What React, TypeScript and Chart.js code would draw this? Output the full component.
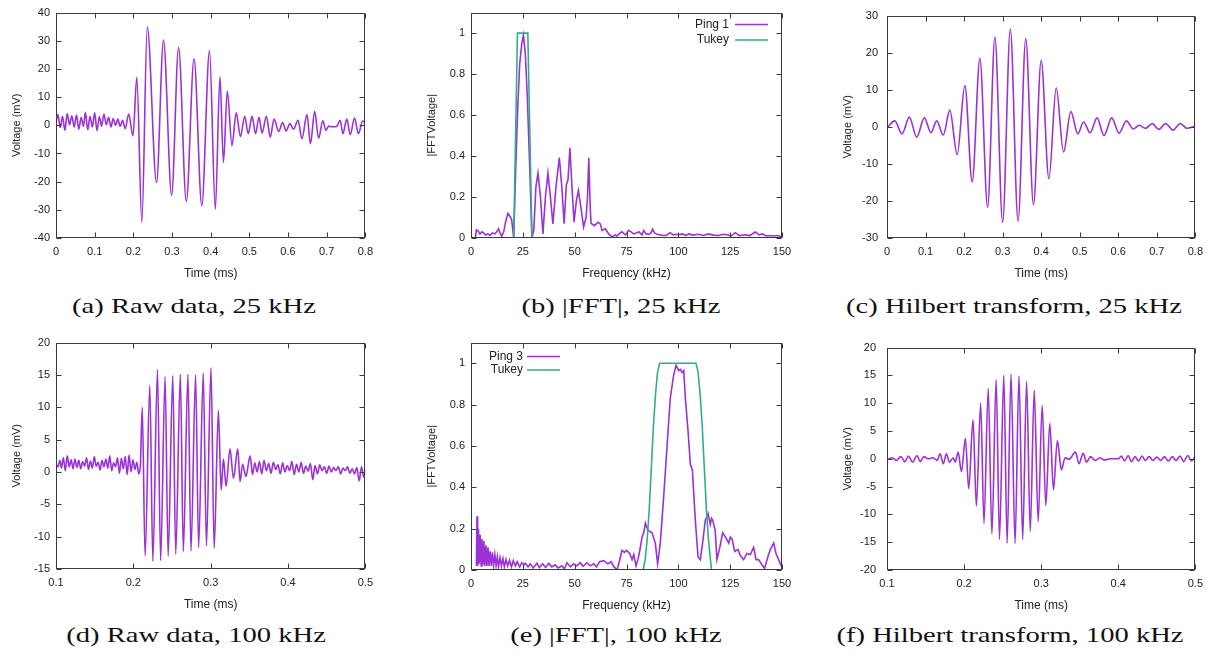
import React, { useEffect, useRef } from 'react';
import { Chart, registerables } from 'chart.js';

Chart.register(...registerables);

type P = [number, number];

const PURPLE = '#9a32d6';
const TEAL = '#2fae8e';
const INK = '#222';
const FRAME = '#3a3a3a';
const SANS = '"Liberation Sans", Arial, Helvetica, sans-serif';

// ---------- tick values & labels ----------
const timeTicks25 = [0, 0.1, 0.2, 0.3, 0.4, 0.5, 0.6, 0.7, 0.8];
const timeLabels25 = ['0', '0.1', '0.2', '0.3', '0.4', '0.5', '0.6', '0.7', '0.8'];
const timeTicks100 = [0.1, 0.2, 0.3, 0.4, 0.5];
const timeLabels100 = ['0.1', '0.2', '0.3', '0.4', '0.5'];
const freqTicks = [0, 25, 50, 75, 100, 125, 150];
const freqLabels = ['0', '25', '50', '75', '100', '125', '150'];
const fftTicks = [0, 0.2, 0.4, 0.6, 0.8, 1];
const fftLabels = ['0', '0.2', '0.4', '0.6', '0.8', '1'];
const rawTicks25 = [-40, -30, -20, -10, 0, 10, 20, 30, 40];
const rawLabels25 = ['-40', '-30', '-20', '-10', '0', '10', '20', '30', '40'];
const hilbTicks25 = [-30, -20, -10, 0, 10, 20, 30];
const hilbLabels25 = ['-30', '-20', '-10', '0', '10', '20', '30'];
const rawTicks100 = [-15, -10, -5, 0, 5, 10, 15, 20];
const rawLabels100 = ['-15', '-10', '-5', '0', '5', '10', '15', '20'];
const hilbTicks100 = [-20, -15, -10, -5, 0, 5, 10, 15, 20];
const hilbLabels100 = ['-20', '-15', '-10', '-5', '0', '5', '10', '15', '20'];

// ---------- series: (a) raw data, 25 kHz  [ms, mV] ----------
const rawData25: P[] = [
  [0.000, 1.0], [0.005, 3.8], [0.011, -0.8], [0.017, 3.2], [0.023, -1.8], [0.029, 4.2], [0.035, 0.2],
  [0.041, 3.4], [0.047, -0.6], [0.053, 3.6], [0.059, -1.4], [0.065, 2.8], [0.071, -0.4], [0.076, 4.6],
  [0.082, -1.6], [0.088, 3.2], [0.094, -0.6], [0.100, 4.4], [0.106, -1.9], [0.112, 3.0], [0.118, -0.3],
  [0.124, 4.0], [0.130, 0.2], [0.136, 2.8], [0.142, -0.6], [0.148, 2.4], [0.154, 0.0], [0.160, 2.2],
  [0.166, -0.4], [0.172, 1.8], [0.179, -1.2], [0.188, 4.0], [0.199, -3.8], [0.209, 17.0], [0.222, -34.5],
  [0.236, 35.0], [0.260, -20.3], [0.278, 30.3], [0.299, -24.8], [0.317, 27.6], [0.337, -27.0],
  [0.357, 23.6], [0.377, -28.5], [0.397, 26.5], [0.412, -29.8], [0.424, 17.2], [0.433, -13.2],
  [0.443, 12.2], [0.455, -7.2], [0.466, 4.4], [0.477, -4.0], [0.488, 3.2], [0.497, -3.0], [0.507, 3.2],
  [0.516, -3.0], [0.525, 2.8], [0.533, -2.8], [0.544, 3.2], [0.554, -4.2], [0.564, 2.2], [0.576, -2.2],
  [0.586, 1.0], [0.595, -2.0], [0.605, 0.6], [0.614, -1.4], [0.626, 1.8], [0.636, -4.8], [0.649, 3.8],
  [0.658, -6.5], [0.669, 5.0], [0.679, -4.6], [0.690, 1.6], [0.698, -1.8], [0.705, -0.3], [0.715, -0.5],
  [0.726, -0.3], [0.735, 1.8], [0.742, -3.0], [0.752, 2.2], [0.761, -3.3], [0.772, 2.6], [0.782, -3.0],
  [0.793, 1.5], [0.800, 0.8],
];

// ---------- (b) |FFT|, 25 kHz  [kHz, |FFT|] ----------
const ping1Spectrum: P[] = [
  [2.1, 0.0], [2.6, 0.04], [3.4, 0.035], [4.3, 0.02], [5.3, 0.03], [6.1, 0.025], [7.0, 0.015], [8.1, 0.02],
  [9.2, 0.012], [10.3, 0.025], [11.5, 0.02], [12.4, 0.03], [13.3, 0.045], [14.2, 0.02], [14.8, 0.008],
  [15.8, 0.03], [16.7, 0.08], [17.8, 0.12], [18.8, 0.105], [19.6, 0.09], [20.6, 0.0], [21.6, 0.35],
  [22.6, 0.65], [23.5, 0.85], [24.5, 0.95], [25.3, 0.99], [26.2, 0.9], [27.2, 0.68], [28.3, 0.35],
  [29.4, 0.0], [30.3, 0.04], [31.3, 0.25], [32.3, 0.317], [33.5, 0.2], [34.7, 0.02], [35.9, 0.2],
  [37.1, 0.317], [38.3, 0.2], [39.5, 0.069], [41.0, 0.25], [42.6, 0.392], [43.8, 0.25], [44.9, 0.07],
  [46.0, 0.26], [46.8, 0.285], [47.7, 0.44], [48.7, 0.25], [49.7, 0.077], [50.8, 0.18], [51.8, 0.232],
  [53.0, 0.15], [54.3, 0.053], [55.5, 0.1], [56.2, 0.2], [56.8, 0.392], [57.5, 0.15], [57.9, 0.072],
  [59.5, 0.06], [61.3, 0.077], [62.3, 0.07], [63.2, 0.037], [64.8, 0.045], [66.4, 0.02], [68.0, 0.005],
  [69.5, 0.015], [70.4, 0.01], [72.0, 0.025], [72.8, 0.03], [74.5, 0.015], [76.0, 0.037], [77.2, 0.03],
  [78.5, 0.02], [80.0, 0.025], [80.9, 0.03], [82.5, 0.015], [83.3, 0.037], [84.5, 0.02], [85.7, 0.018],
  [86.8, 0.025], [87.6, 0.043], [88.5, 0.025], [89.7, 0.018], [91.5, 0.015], [92.9, 0.012], [94.5, 0.015],
  [96.1, 0.026], [97.5, 0.015], [99.0, 0.018], [100.2, 0.016], [102.0, 0.02], [103.5, 0.012], [105.0, 0.02],
  [107.0, 0.014], [109.8, 0.018], [112.0, 0.012], [114.6, 0.02], [117.0, 0.014], [119.5, 0.012],
  [121.5, 0.018], [123.5, 0.016], [125.5, 0.01], [127.5, 0.026], [129.5, 0.012], [132.3, 0.016],
  [134.5, 0.012], [137.1, 0.029], [139.0, 0.015], [140.4, 0.02], [142.5, 0.01], [144.4, 0.012],
  [146.5, 0.01], [148.0, 0.012], [150.0, 0.005],
];
const tukey25: P[] = [[20.6, 0], [22.4, 1], [27.4, 1], [29.4, 0]];

// ---------- (c) Hilbert transform, 25 kHz ----------
const hilbert25: P[] = [
  [0.000, -0.3], [0.020, 1.6], [0.039, -1.9], [0.058, 2.6], [0.077, -2.8], [0.097, 2.4], [0.114, -1.6],
  [0.129, 1.6], [0.146, -2.2], [0.163, 4.5], [0.182, -7.5], [0.202, 11.1], [0.221, -14.9], [0.241, 18.5],
  [0.261, -21.7], [0.280, 24.2], [0.300, -25.8], [0.320, 26.4], [0.340, -25.5], [0.360, 23.8],
  [0.380, -21.0], [0.400, 17.9], [0.420, -14.0], [0.439, 10.5], [0.458, -6.8], [0.477, 4.1],
  [0.495, -1.9], [0.510, 1.3], [0.527, -1.6], [0.545, 2.4], [0.563, -2.4], [0.583, 2.4], [0.602, -1.7],
  [0.621, 1.6], [0.639, -0.6], [0.654, 0.4], [0.671, -0.4], [0.688, 0.9], [0.705, -0.7], [0.723, 0.9],
  [0.742, -0.9], [0.761, 0.9], [0.778, -0.4], [0.800, 0.2],
];

// ---------- (d) raw data, 100 kHz ----------
const rawData100: P[] = [
  [0.1000, 1.2], [0.1025, 0.8], [0.1050, 1.8], [0.1070, 0.6], [0.1095, 2.2], [0.1120, 0.2], [0.1145, 2.5],
  [0.1170, 0.8], [0.1195, 1.9], [0.1220, 0.5], [0.1245, 2.0], [0.1270, 0.7], [0.1295, 1.8], [0.1320, 0.5],
  [0.1345, 1.6], [0.1370, 0.9], [0.1395, 2.2], [0.1420, 0.4], [0.1445, 1.7], [0.1470, 0.6], [0.1495, 2.4],
  [0.1520, 0.9], [0.1545, 1.5], [0.1570, 0.3], [0.1595, 1.8], [0.1620, 0.8], [0.1645, 2.0], [0.1670, 0.6],
  [0.1695, 2.5], [0.1720, 0.2], [0.1745, 1.4], [0.1770, 0.8], [0.1795, 2.2], [0.1820, -0.2], [0.1845, 2.1],
  [0.1870, 0.5], [0.1895, 2.4], [0.1920, -0.4], [0.1945, 2.6], [0.1970, 0.0], [0.1995, 1.9], [0.2020, 0.4],
  [0.2045, 1.5], [0.2070, -0.3], [0.2090, 0.8],
  [0.2115, 10.0], [0.2152, -13.0], [0.2213, 13.4], [0.2252, -13.8], [0.2312, 15.8], [0.2353, -13.7],
  [0.2410, 14.7], [0.2450, -13.0], [0.2510, 14.9], [0.2548, -12.7], [0.2608, 15.1], [0.2646, -12.3],
  [0.2706, 15.1], [0.2745, -12.2], [0.2805, 15.0], [0.2844, -11.7], [0.2904, 15.3], [0.2945, -11.4],
  [0.3004, 16.1], [0.3045, -11.8], [0.3100, 9.5], [0.3135, -2.8],
  [0.3165, 2.0], [0.3199, -2.2], [0.3250, 3.6], [0.3294, -1.0], [0.3350, 3.6], [0.3380, -1.5], [0.3413, 1.2],
  [0.3456, -0.7], [0.3510, 2.5], [0.3541, -0.4], [0.3570, 1.4], [0.3600, 0.0], [0.3630, 1.6], [0.3660, -0.3],
  [0.3690, 1.8], [0.3720, 0.2], [0.3750, 1.3], [0.3780, -0.2], [0.3810, 1.5], [0.3840, 0.4], [0.3870, 1.1],
  [0.3900, -0.3], [0.3930, 1.4], [0.3960, 0.0], [0.3990, 1.0], [0.4020, 0.2], [0.4050, 1.6], [0.4080, -0.4],
  [0.4110, 1.2], [0.4140, 0.0], [0.4170, 1.5], [0.4200, -0.2], [0.4230, 0.9], [0.4260, 0.1], [0.4290, 1.3],
  [0.4320, -1.2], [0.4350, 1.0], [0.4380, -0.3], [0.4410, 1.1], [0.4440, 0.2], [0.4470, 0.8], [0.4500, -0.2],
  [0.4530, 0.9], [0.4560, 0.0], [0.4590, 0.7], [0.4620, 0.2], [0.4650, 0.8], [0.4680, -0.3], [0.4710, 0.6],
  [0.4740, 0.2], [0.4770, 0.8], [0.4800, -0.2], [0.4830, 0.5], [0.4860, -0.3], [0.4890, 0.7], [0.4920, -1.4],
  [0.4950, 0.8], [0.4980, -0.8], [0.5000, 0.3],
];

// ---------- (e) |FFT|, 100 kHz ----------
const ping3Spectrum: P[] = [
  [2.6, 0.02], [2.9, 0.26], [3.2, 0.02], [3.6, 0.2], [4.0, 0.03], [4.4, 0.17], [4.9, 0.02], [5.3, 0.15],
  [5.8, 0.03], [6.2, 0.14], [6.7, 0.02], [7.2, 0.12], [7.7, 0.02], [8.2, 0.11], [8.7, 0.02], [9.2, 0.09],
  [9.8, 0.02], [10.3, 0.085], [10.9, 0.02], [11.5, 0.075], [12.1, 0.02], [12.7, 0.065], [13.3, 0.015],
  [14.0, 0.06], [14.7, 0.02], [15.4, 0.055], [16.1, 0.015], [16.9, 0.05], [17.7, 0.02], [18.6, 0.047],
  [19.5, 0.015], [20.4, 0.045], [21.4, 0.02], [22.3, 0.04], [23.5, 0.015], [24.5, 0.035], [25.5, 0.025],
  [26.2, 0.033], [27.5, 0.015], [28.6, 0.03], [30.0, 0.01], [31.8, 0.033], [33.0, 0.012], [34.5, 0.03],
  [36.0, 0.012], [37.5, 0.032], [39.0, 0.015], [40.5, 0.025], [42.0, 0.01], [43.9, 0.02], [45.0, 0.005],
  [46.3, 0.035], [48.0, 0.015], [49.5, 0.03], [51.0, 0.02], [52.7, 0.035], [54.0, 0.018], [55.9, 0.035],
  [57.5, 0.02], [59.2, 0.03], [60.5, 0.015], [62.0, 0.04], [64.0, 0.045], [66.0, 0.03], [67.5, 0.04],
  [69.0, 0.015], [70.4, 0.0], [71.5, 0.04], [72.8, 0.095], [74.0, 0.085], [75.0, 0.095], [76.5, 0.08],
  [77.7, 0.05], [78.5, 0.075], [79.6, 0.02], [80.5, 0.05], [81.7, 0.11], [82.5, 0.16], [83.3, 0.18],
  [84.1, 0.226], [85.0, 0.2], [85.7, 0.19], [87.3, 0.18], [88.9, 0.13], [90.0, 0.03], [91.3, 0.13],
  [92.9, 0.35], [94.5, 0.59], [96.1, 0.83], [97.7, 0.94], [98.9, 0.99], [100.2, 0.965], [101.0, 0.97],
  [101.8, 0.955], [102.6, 0.965], [103.4, 0.83], [104.7, 0.67], [105.8, 0.51], [106.2, 0.5], [106.8, 0.48],
  [108.2, 0.24], [109.5, 0.064], [110.6, 0.05], [111.7, 0.13], [113.0, 0.24], [114.3, 0.274], [115.4, 0.22],
  [116.0, 0.25], [116.6, 0.24], [117.8, 0.19], [118.6, 0.05], [119.8, 0.1], [121.4, 0.18], [122.7, 0.16],
  [124.3, 0.13], [125.1, 0.16], [125.9, 0.15], [127.2, 0.09], [128.8, 0.1], [129.9, 0.07], [131.5, 0.05],
  [133.1, 0.08], [134.7, 0.075], [136.3, 0.11], [137.5, 0.05], [138.7, 0.05], [140.4, 0.024], [141.6, 0.008],
  [143.2, 0.064], [144.4, 0.1], [146.0, 0.13], [147.1, 0.08], [148.4, 0.05], [149.2, 0.03], [150.0, 0.015],
];
const tukey100: P[] = [
  [83.0, 0], [84.0, 0.05], [85.0, 0.15], [86.0, 0.3], [87.0, 0.5], [88.0, 0.7], [89.0, 0.85], [90.0, 0.96],
  [91.0, 1.0], [108.5, 1.0], [109.5, 0.96], [110.5, 0.85], [111.5, 0.7], [112.5, 0.5], [113.5, 0.3],
  [114.5, 0.15], [115.5, 0.05], [116.0, 0],
];

// ---------- (f) Hilbert transform, 100 kHz ----------
const hilbert100: P[] = [
  [0.100, -0.2], [0.107, 0.2], [0.112, -0.3], [0.118, 0.4], [0.123, -0.5], [0.128, 0.5], [0.133, -0.6],
  [0.139, 0.6], [0.143, -0.5], [0.148, 0.4], [0.153, 0.0], [0.160, 0.2], [0.165, -0.3], [0.169, 0.9],
  [0.173, -0.9], [0.177, 0.9], [0.181, -0.6], [0.186, 0.2], [0.1885, -0.6], [0.1923, 1.2], [0.1966, -2.3],
  [0.2017, 3.7], [0.2060, -5.4], [0.2116, 7.0], [0.2159, -8.5], [0.2215, 10.0], [0.2258, -11.6],
  [0.2313, 12.6], [0.2361, -13.5], [0.2416, 14.2], [0.2459, -14.5], [0.2515, 15.0], [0.2558, -15.2],
  [0.2609, 15.2], [0.2661, -15.2], [0.2712, 14.9], [0.2760, -14.5], [0.2811, 13.9], [0.2858, -13.0],
  [0.2910, 12.3], [0.2961, -11.3], [0.3013, 9.6], [0.3060, -8.4], [0.3112, 6.4], [0.3159, -5.6],
  [0.3210, 3.3], [0.3262, -2.0], [0.3310, 0.2], [0.3360, -0.1], [0.3446, 1.2], [0.3490, -0.9],
  [0.3545, 1.0], [0.3588, -0.6], [0.3640, 0.4], [0.3700, -0.3], [0.3760, 0.2], [0.3820, -0.2],
  [0.390, 0.0], [0.400, 0.0], [0.404, 0.5], [0.408, -0.4], [0.413, 0.6], [0.417, -0.5], [0.422, 0.4],
  [0.426, -0.4], [0.431, 0.5], [0.435, -0.3], [0.440, 0.4], [0.445, -0.3], [0.450, 0.3], [0.455, -0.3],
  [0.460, 0.4], [0.465, -0.4], [0.470, 0.4], [0.475, -0.3], [0.480, 0.5], [0.485, -0.5], [0.490, 0.6],
  [0.495, -0.4], [0.500, 0.4],
];

// ---------- captions ----------
const captions = [
  '(a) Raw data, 25 kHz', '(b) |FFT|, 25 kHz', '(c) Hilbert transform, 25 kHz',
  '(d) Raw data, 100 kHz', '(e) |FFT|, 100 kHz', '(f) Hilbert transform, 100 kHz',
];

// ---------- plugin: gnuplot-like frame, inward ticks, key ----------
const gnuPlugin = {
  id: 'gnu',
  afterDatasetsDraw(chart: any, _args: any, opts: any) {
    const { ctx, chartArea: a, scales } = chart;
    const xs = scales.x;
    const ys = scales.y;
    const L = 5;
    ctx.save();
    ctx.strokeStyle = FRAME;
    ctx.lineWidth = 1;
    const l = Math.round(a.left) + 0.5;
    const r = Math.round(a.right) - 0.5;
    const t = Math.round(a.top) + 0.5;
    const b = Math.round(a.bottom) - 0.5;
    ctx.strokeRect(l, t, r - l, b - t);
    ctx.beginPath();
    xs.ticks.forEach((tk: any) => {
      const p = Math.round(xs.getPixelForValue(tk.value)) + 0.5;
      ctx.moveTo(p, b); ctx.lineTo(p, b - L);
      ctx.moveTo(p, t); ctx.lineTo(p, t + L);
    });
    ys.ticks.forEach((tk: any) => {
      const p = Math.round(ys.getPixelForValue(tk.value)) + 0.5;
      ctx.moveTo(l, p); ctx.lineTo(l + L, p);
      ctx.moveTo(r, p); ctx.lineTo(r - L, p);
    });
    ctx.stroke();
    const key = opts && opts.key;
    if (key) {
      ctx.font = `12px ${SANS}`;
      ctx.textAlign = 'right';
      ctx.textBaseline = 'middle';
      chart.data.datasets.forEach((ds: any, i: number) => {
        const y = a.top + key.y0 + i * key.dy;
        ctx.fillStyle = INK;
        ctx.fillText(ds.label, a.left + key.textRight, y);
        ctx.strokeStyle = ds.borderColor;
        ctx.lineWidth = 1.5;
        ctx.beginPath();
        ctx.moveTo(a.left + key.x1, y);
        ctx.lineTo(a.left + key.x2, y);
        ctx.stroke();
      });
    }
    ctx.restore();
  },
};

type Series = { label: string; data: P[]; color: string; smooth: boolean; order: number };
type PanelCfg = {
  left: number; top: number; w: number;
  plot: { l: number; t: number; r: number; b: number };
  yTitleX: number; yGap: number;
  xMin: number; xMax: number; xTicks: number[]; xLabels: string[]; xTitle: string;
  yMin: number; yMax: number; yTicks: number[]; yLabels: string[]; yTitle: string;
  series: Series[];
  key?: { textRight: number; x1: number; x2: number; y0: number; dy: number };
};

const lookup = (ticks: number[], labels: string[]) => (v: any) => {
  const i = ticks.findIndex((t) => Math.abs(t - Number(v)) < 1e-9);
  return i >= 0 ? labels[i] : '';
};

function Panel({ cfg }: { cfg: PanelCfg }) {
  const ref = useRef<HTMLCanvasElement>(null);
  const h = cfg.plot.b + 47 - cfg.top;
  useEffect(() => {
    if (!ref.current) return;
    const chart = new Chart(ref.current, {
      type: 'line',
      data: {
        datasets: cfg.series.map((s) => ({
          label: s.label,
          data: s.data.map(([x, y]) => ({ x, y })),
          borderColor: s.color,
          backgroundColor: s.color,
          borderWidth: 1.6,
          pointRadius: 0,
          fill: false,
          order: s.order,
          tension: 0,
          cubicInterpolationMode: s.smooth ? 'monotone' : 'default',
        })),
      },
      plugins: [gnuPlugin],
      options: {
        animation: false,
        responsive: true,
        maintainAspectRatio: false,
        events: [],
        layout: {
          padding: { top: cfg.plot.t - cfg.top, right: cfg.left + cfg.w - cfg.plot.r, left: 0, bottom: 0 },
        },
        plugins: {
          legend: { display: false },
          tooltip: { enabled: false },
          gnu: { key: cfg.key },
        } as any,
        scales: {
          x: {
            type: 'linear',
            min: cfg.xMin,
            max: cfg.xMax,
            grid: { display: false, drawTicks: false },
            border: { display: false },
            afterBuildTicks: (s: any) => { s.ticks = cfg.xTicks.map((v) => ({ value: v })); },
            afterFit: (s: any) => { s.height = cfg.top + h - cfg.plot.b; },
            ticks: {
              autoSkip: false, maxRotation: 0, padding: 7, color: INK,
              font: { family: SANS, size: 11 },
              callback: lookup(cfg.xTicks, cfg.xLabels),
            },
            title: {
              display: true, text: cfg.xTitle, color: INK,
              font: { family: SANS, size: 12 }, padding: { top: 0, bottom: 4 },
            },
          },
          y: {
            type: 'linear',
            min: cfg.yMin,
            max: cfg.yMax,
            grid: { display: false, drawTicks: false },
            border: { display: false },
            afterBuildTicks: (s: any) => { s.ticks = cfg.yTicks.map((v) => ({ value: v })); },
            afterFit: (s: any) => { s.width = cfg.plot.l - cfg.left; },
            ticks: {
              autoSkip: false, padding: cfg.yGap, color: INK,
              font: { family: SANS, size: 11 },
              callback: lookup(cfg.yTicks, cfg.yLabels),
            },
            title: {
              display: true, text: cfg.yTitle, color: INK,
              font: { family: SANS, size: 11 },
              padding: { top: cfg.yTitleX - cfg.left - 6.6, bottom: 0 },
            },
          },
        },
      } as any,
    });
    return () => chart.destroy();
  }, []);
  return (
    <div style={{ position: 'absolute', left: cfg.left, top: cfg.top, width: cfg.w, height: h }}>
      <canvas ref={ref} />
    </div>
  );
}

const panels: PanelCfg[] = [
  {
    left: 0, top: 0, w: 380, plot: { l: 56, t: 9, r: 367, b: 238 }, yTitleX: 17, yGap: 6,
    xMin: 0, xMax: 0.8, xTicks: timeTicks25, xLabels: timeLabels25, xTitle: 'Time (ms)',
    yMin: -40, yMax: 40, yTicks: rawTicks25, yLabels: rawLabels25, yTitle: 'Voltage (mV)',
    series: [{ label: 'Raw', data: rawData25, color: PURPLE, smooth: true, order: 1 }],
  },
  {
    left: 405, top: 0, w: 395, plot: { l: 471, t: 9, r: 782, b: 238 }, yTitleX: 432, yGap: 6,
    xMin: 0, xMax: 150, xTicks: freqTicks, xLabels: freqLabels, xTitle: 'Frequency (kHz)',
    yMin: 0, yMax: 1.1, yTicks: fftTicks, yLabels: fftLabels, yTitle: '|FFTVoltage|',
    series: [
      { label: 'Ping 1', data: ping1Spectrum, color: PURPLE, smooth: false, order: 1 },
      { label: 'Tukey', data: tukey25, color: TEAL, smooth: false, order: 0 },
    ],
    key: { textRight: 258, x1: 264, x2: 297, y0: 12, dy: 15.5 },
  },
  {
    left: 815, top: 0, w: 395, plot: { l: 887, t: 9, r: 1197, b: 238 }, yTitleX: 848, yGap: 9,
    xMin: 0, xMax: 0.8, xTicks: timeTicks25, xLabels: timeLabels25, xTitle: 'Time (ms)',
    yMin: -30, yMax: 30, yTicks: hilbTicks25, yLabels: hilbLabels25, yTitle: 'Voltage (mV)',
    series: [{ label: 'Hilbert', data: hilbert25, color: PURPLE, smooth: true, order: 1 }],
  },
  {
    left: 0, top: 330, w: 380, plot: { l: 56, t: 341, r: 367, b: 569 }, yTitleX: 17, yGap: 6,
    xMin: 0.1, xMax: 0.5, xTicks: timeTicks100, xLabels: timeLabels100, xTitle: 'Time (ms)',
    yMin: -15, yMax: 20, yTicks: rawTicks100, yLabels: rawLabels100, yTitle: 'Voltage (mV)',
    series: [{ label: 'Raw', data: rawData100, color: PURPLE, smooth: true, order: 1 }],
  },
  {
    left: 405, top: 330, w: 395, plot: { l: 471, t: 340, r: 782, b: 570 }, yTitleX: 432, yGap: 6,
    xMin: 0, xMax: 150, xTicks: freqTicks, xLabels: freqLabels, xTitle: 'Frequency (kHz)',
    yMin: 0, yMax: 1.1, yTicks: fftTicks, yLabels: fftLabels, yTitle: '|FFTVoltage|',
    series: [
      { label: 'Ping 3', data: ping3Spectrum, color: PURPLE, smooth: false, order: 1 },
      { label: 'Tukey', data: tukey100, color: TEAL, smooth: false, order: 0 },
    ],
    key: { textRight: 52, x1: 56, x2: 89, y0: 14, dy: 13.5 },
  },
  {
    left: 815, top: 330, w: 395, plot: { l: 887, t: 340, r: 1197, b: 570 }, yTitleX: 848, yGap: 11,
    xMin: 0.1, xMax: 0.5, xTicks: timeTicks100, xLabels: timeLabels100, xTitle: 'Time (ms)',
    yMin: -20, yMax: 20, yTicks: hilbTicks100, yLabels: hilbLabels100, yTitle: 'Voltage (mV)',
    series: [{ label: 'Hilbert', data: hilbert100, color: PURPLE, smooth: true, order: 1 }],
  },
];

const captionPos = [
  [194, 306], [621, 306], [1014, 306],
  [196, 635], [616, 635], [1010, 635],
];

export default function App() {
  return (
    <div style={{ position: 'absolute', left: 0, top: 0, width: 1210, height: 655, background: '#fff', overflow: 'hidden' }}>
      {panels.map((p, i) => <Panel key={i} cfg={p} />)}
      {captions.map((c, i) => (
        <div
          key={'c' + i}
          style={{
            position: 'absolute', left: captionPos[i][0], top: captionPos[i][1],
            transform: 'translate(-50%, -50%) scaleX(1.3)', whiteSpace: 'nowrap',
            fontFamily: '"Liberation Serif", "Times New Roman", serif', fontSize: 22, lineHeight: 1,
            color: '#111',
          }}
        >
          {c}
        </div>
      ))}
    </div>
  );
}
